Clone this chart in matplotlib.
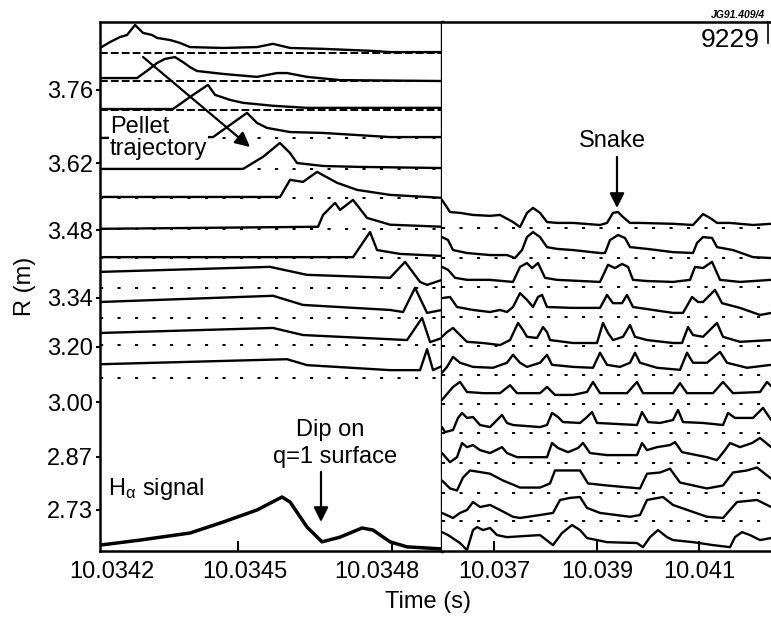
import numpy as np
import matplotlib
matplotlib.use("Agg")
import matplotlib.pyplot as plt

plt.rcParams['font.family'] = ['Liberation Sans', 'DejaVu Sans']
plt.rcParams['mathtext.fontset'] = 'custom'
plt.rcParams['mathtext.rm'] = 'Liberation Sans'
plt.rcParams['mathtext.it'] = 'Liberation Sans:italic'

# ---- data -----------------------------------------------------------------
# left panel: (time in us after 10.0342 s, signal in units of channel spacing)
T0_LEFT = 10.0342
left_0 = [(-27, 0.17), (-4.5, 0.37), (18.1, 0.54), (34.0, 0.61), (52.1, 0.95), (70.2, 0.68),
          (90.6, 0.61), (101.9, 0.51), (131.3, 0.44), (153.9, 0.34), (176.6, 0.20), (251.3, 0.17),
          (328.2, 0.20), (364.5, 0.31), (403.0, 0.17), (477.7, 0.14), (590.9, 0.07), (629.4, 0.03),
          (747, 0.03)]
left_1 = [(-27, 0.10), (56.6, 0.10), (81.5, 0.37), (101.9, 0.61), (120.0, 0.75), (142.6, 0.81),
          (160.7, 0.64), (176.6, 0.47), (192.4, 0.34), (251.3, 0.24), (328.2, 0.14), (373.6, 0.27),
          (396.2, 0.27), (441.5, 0.14), (516.2, 0.03), (747, 0.0)]
left_2 = [(-27, 0.03), (138.1, 0.03), (176.6, 0.44), (217.3, 0.85), (233.2, 0.51), (267.1, 0.34),
          (296.6, 0.24), (364.5, 0.14), (441.5, 0.07), (747, 0.07)]
left_3 = [(-27, 0.0), (228.7, 0.03), (305.6, 0.85), (328.2, 0.51), (350.9, 0.34), (403.0, 0.20),
          (477.7, 0.17), (629.4, 0.03), (747, 0.03)]
left_4 = [(-27, 0.0), (296.6, 0.0), (341.9, 0.41), (380.0, 0.88), (402.9, 0.54), (418.8, 0.20),
          (477.7, 0.10), (554.7, 0.07), (747, 0.03)]
left_5 = [(-27, 0.03), (380.4, 0.03), (403.0, 0.61), (432.4, 0.54), (464.1, 0.88), (509.4, 0.51),
          (554.7, 0.27), (629.4, 0.10), (747, 0.0)]
left_6 = [(-27, 0.0), (466.4, 0.07), (477.7, 0.47), (504.9, 0.88), (516.2, 0.64), (545.6, 0.98),
          (577.3, 0.37), (629.4, 0.14), (747, 0.07)]
left_7 = [(-27, 0.03), (545.6, 0.03), (584.1, 0.88), (600.0, 0.27), (652.0, 0.14), (747, 0.07)]
left_8 = [(-27, 0.54), (357.7, 0.71), (441.5, 0.44), (629.4, 0.34), (663.4, 0.88), (697.3, 0.20),
          (713.2, 0.10), (747, 0.27)]
left_9 = [(-27, 0.54), (364.5, 0.75), (432.4, 0.44), (629.4, 0.27), (658.9, 0.20), (686.0, 1.02),
          (713.2, 0.17), (747, 0.27)]
left_10 = [(-27, 0.41), (364.5, 0.58), (432.4, 0.34), (667.9, 0.17), (701.9, 0.92), (720.0, 0.10),
           (747, 0.24)]
left_11 = [(-27, 0.47), (396.2, 0.64), (441.5, 0.44), (629.4, 0.27), (697.3, 0.27), (713.2, 0.98),
           (726.7, 0.27), (747, 0.41)]
halpha = [(-27, 0.20), (63.4, 0.37), (176.6, 0.61), (251.3, 0.98), (328.2, 1.39), (384.9, 1.83),
          (403.0, 1.66), (441.5, 0.81), (475.4, 0.31), (516.2, 0.47), (566.0, 0.78), (590.9, 0.71),
          (629.4, 0.31), (667.9, 0.14), (747, 0.07)]
left_base = [16.88, 15.93, 14.95, 14.0, 12.95, 11.97, 10.92, 9.93, 8.92, 7.90, 6.98, 5.86]

# right panel: (time in ms after 10.036 s, signal)
T0_RIGHT = 10.036
right_0 = [(-0.02, 0.95), (0.137, 0.54), (0.332, 0.51), (0.585, 0.44), (0.917, 0.41), (1.112, 0.44),
           (1.365, 0.20), (1.502, 0.03), (1.638, 0.51), (1.755, 0.68), (1.892, 0.51), (2.028, 0.20),
           (2.223, 0.17), (2.535, 0.17), (3.062, 0.10), (3.198, 0.17), (3.315, 0.51), (3.413, 0.54),
           (3.51, 0.37), (3.647, 0.17), (3.842, 0.17), (4.485, 0.14), (4.875, 0.10), (5.07, 0.47),
           (5.207, 0.34), (5.343, 0.17), (5.597, 0.17), (6.045, 0.10), (6.40, 0.14)]
right_1 = [(-0.02, 0.71), (0.098, 0.61), (0.195, 0.27), (0.468, 0.17), (0.917, 0.10), (1.248, 0.10),
           (1.404, 0.0), (1.541, 0.27), (1.638, 0.71), (1.755, 0.88), (1.892, 0.71), (2.028, 0.37),
           (2.223, 0.31), (2.535, 0.27), (3.062, 0.17), (3.159, 0.17), (3.257, 0.61), (3.413, 0.78),
           (3.549, 0.68), (3.647, 0.37), (3.978, 0.31), (4.485, 0.20), (4.875, 0.17), (4.953, 0.51),
           (5.07, 0.71), (5.246, 0.68), (5.343, 0.37), (5.655, 0.27), (6.045, 0.03), (6.40, 0.0)]
right_2 = [(-0.02, 0.68), (0.098, 0.58), (0.234, 0.31), (0.468, 0.24), (0.917, 0.24), (1.365, 0.17),
           (1.502, 0.68), (1.638, 0.81), (1.736, 0.64), (1.853, 0.81), (1.989, 0.31), (2.223, 0.24),
           (3.062, 0.17), (3.218, 0.75), (3.354, 0.64), (3.491, 0.78), (3.608, 0.68), (3.705, 0.24),
           (3.978, 0.20), (4.485, 0.17), (4.817, 0.24), (4.914, 0.68), (5.07, 0.64), (5.246, 0.85),
           (5.402, 0.24), (5.792, 0.17), (6.40, 0.24)]
right_3 = [(-0.02, 0.64), (0.137, 0.68), (0.273, 0.34), (0.585, 0.24), (0.917, 0.17), (1.112, 0.24),
           (1.248, 0.17), (1.365, 0.34), (1.502, 0.81), (1.638, 0.58), (1.755, 0.34), (1.853, 0.68),
           (1.931, 0.75), (2.028, 0.34), (2.535, 0.31), (3.062, 0.31), (3.198, 0.75), (3.315, 0.47),
           (3.491, 0.47), (3.588, 0.75), (3.705, 0.34), (4.485, 0.14), (4.68, 0.14), (4.856, 0.68),
           (4.973, 0.51), (5.07, 0.51), (5.304, 0.92), (5.441, 0.47), (5.792, 0.31), (6.182, 0.07),
           (6.40, 0.14)]
right_4 = [(-0.02, 0.31), (0.078, 0.47), (0.195, 0.61), (0.332, 0.37), (0.468, 0.14), (0.78, 0.10),
           (1.112, 0.03), (1.307, 0.20), (1.463, 0.78), (1.56, 0.54), (1.638, 0.31), (1.833, 0.27),
           (1.95, 0.64), (2.028, 0.47), (2.087, 0.20), (2.535, 0.10), (3.003, 0.10), (3.12, 0.78),
           (3.218, 0.44), (3.315, 0.20), (3.51, 0.31), (3.647, 0.71), (3.744, 0.31), (3.978, 0.20),
           (4.485, 0.10), (4.661, 0.10), (4.778, 0.64), (4.875, 0.37), (5.07, 0.31), (5.343, 0.78),
           (5.46, 0.31), (5.792, 0.14), (6.40, 0.20)]
right_5 = [(-0.02, 0.07), (0.078, 0.27), (0.195, 0.61), (0.332, 0.41), (0.585, 0.27), (0.975, 0.24),
           (1.248, 0.41), (1.365, 0.68), (1.502, 0.41), (1.638, 0.27), (1.892, 0.41), (2.028, 0.68),
           (2.126, 0.34), (2.535, 0.27), (2.925, 0.24), (3.062, 0.75), (3.198, 0.34), (3.452, 0.27),
           (3.647, 0.41), (3.744, 0.75), (3.842, 0.41), (4.173, 0.24), (4.622, 0.17), (4.758, 0.75),
           (4.875, 0.41), (5.148, 0.41), (5.402, 0.78), (5.538, 0.41), (5.928, 0.24), (6.40, 0.34)]
right_6 = [(-0.02, 0.14), (0.195, 0.58), (0.332, 0.75), (0.468, 0.41), (0.78, 0.37), (1.112, 0.37),
           (1.307, 0.64), (1.443, 0.37), (1.892, 0.37), (2.028, 0.58), (2.184, 0.31), (2.535, 0.31),
           (2.808, 0.41), (2.925, 0.75), (3.062, 0.37), (3.588, 0.37), (3.783, 0.75), (3.9, 0.37),
           (4.485, 0.37), (4.622, 0.71), (4.758, 0.37), (5.265, 0.37), (5.46, 0.75), (5.655, 0.37),
           (6.182, 0.41), (6.318, 0.75), (6.416, 0.58)]
right_7 = [(-0.02, 0.20), (0.039, 0.03), (0.195, 0.10), (0.293, 0.51), (0.371, 0.68), (0.468, 0.51),
           (0.585, 0.54), (0.722, 0.27), (0.917, 0.20), (1.151, 0.61), (1.248, 0.34), (1.365, 0.27),
           (1.892, 0.20), (2.028, 0.27), (2.126, 0.68), (2.243, 0.54), (2.34, 0.37), (2.672, 0.34),
           (2.808, 0.54), (2.906, 0.71), (3.003, 0.34), (3.783, 0.27), (3.881, 0.71), (3.998, 0.37),
           (4.232, 0.34), (4.485, 0.44), (4.583, 0.78), (4.68, 0.37), (5.07, 0.34), (5.46, 0.27),
           (5.558, 0.68), (5.694, 0.51), (6.045, 0.51), (6.24, 0.85), (6.40, 0.44)]
right_8 = [(-0.02, 0.34), (0.137, 0.03), (0.273, 0.20), (0.371, 0.68), (0.468, 0.54), (0.585, 0.61),
           (0.722, 0.44), (0.917, 0.34), (1.151, 0.54), (1.248, 0.34), (1.443, 0.20), (2.028, 0.20),
           (2.126, 0.68), (2.243, 0.51), (2.438, 0.37), (2.633, 0.51), (2.73, 0.68), (2.867, 0.34),
           (3.198, 0.27), (3.783, 0.27), (3.881, 0.68), (3.978, 0.44), (4.173, 0.54), (4.427, 0.61),
           (4.524, 0.71), (4.661, 0.37), (5.148, 0.20), (5.343, 0.10), (5.499, 0.44), (5.597, 0.68),
           (5.792, 0.54), (6.026, 0.68), (6.182, 0.85), (6.40, 0.54)]
right_9 = [(-0.02, 0.41), (0.137, 0.14), (0.273, 0.07), (0.39, 0.51), (0.527, 0.75), (0.917, 0.64),
           (1.17, 0.41), (1.502, 0.17), (1.892, 0.17), (2.087, 0.31), (2.184, 0.75), (2.418, 0.75),
           (2.672, 0.75), (2.828, 0.31), (3.198, 0.24), (3.842, 0.14), (3.978, 0.64), (4.232, 0.68),
           (4.427, 0.81), (4.622, 0.34), (5.148, 0.14), (5.46, 0.24), (5.655, 0.68), (5.928, 0.75),
           (6.123, 0.85), (6.40, 0.47)]
right_10 = [(-0.02, 0.27), (0.195, 0.10), (0.332, 0.27), (0.468, 0.37), (0.585, 0.64), (0.722, 0.47),
            (0.917, 0.54), (1.112, 0.37), (1.365, 0.14), (1.502, 0.10), (1.892, 0.20), (2.145, 0.27),
            (2.282, 0.71), (2.477, 0.78), (2.672, 0.81), (2.808, 0.44), (3.062, 0.27), (3.647, 0.14),
            (3.842, 0.20), (3.978, 0.71), (4.29, 0.81), (4.485, 0.54), (5.148, 0.14), (5.46, 0.10),
            (5.597, 0.37), (5.733, 0.64), (6.123, 0.71), (6.40, 0.47)]
right_11 = [(-0.02, 0.61), (0.098, 0.51), (0.332, 0.24), (0.468, 0.0), (0.585, 0.68), (0.663, 0.78),
            (0.78, 0.68), (0.917, 0.75), (1.053, 0.51), (1.248, 0.44), (1.892, 0.51), (2.145, 0.17),
            (2.321, 0.58), (2.516, 0.85), (2.672, 0.68), (2.808, 0.41), (3.198, 0.27), (3.783, 0.24),
            (3.9, 0.10), (4.037, 0.44), (4.193, 0.68), (4.368, 0.44), (4.485, 0.34), (4.875, 0.27),
            (5.265, 0.17), (5.597, 0.10), (5.694, 0.44), (5.831, 0.61), (5.987, 0.51), (6.182, 0.34),
            (6.40, 0.41)]
right_base = [10.95, 9.93, 8.95, 7.93, 6.95, 5.97, 4.98, 4.0, 2.98, 1.98, 1.02, 0.03]

r_tick_pos = [15.63, 13.15, 10.88, 8.58, 6.92, 5.05, 3.19, 1.39]
r_tick_lab = ['3.76', '3.62', '3.48', '3.34', '3.20', '3.00', '2.87', '2.73']
left_xticks = [10.0342, 10.0345, 10.0348]
left_xmarks = [10.034485, 10.034834]
right_xticks = [10.037, 10.039, 10.041]

# ---- figure ---------------------------------------------------------------
W, H = 771, 618
fig = plt.figure(figsize=(W / 100, H / 100), dpi=100)
bot, top = 551, 22
axL = fig.add_axes([100 / W, (H - bot) / H, 342 / W, (bot - top) / H])
axR = fig.add_axes([442 / W, (H - bot) / H, 329 / W, (bot - top) / H], sharey=axL)

left_traces = [left_0, left_1, left_2, left_3, left_4, left_5,
               left_6, left_7, left_8, left_9, left_10, left_11]
right_traces = [right_0, right_1, right_2, right_3, right_4, right_5,
                right_6, right_7, right_8, right_9, right_10, right_11]

line_kw = dict(color='k', lw=1.7, solid_joinstyle='round', solid_capstyle='round', zorder=2)

for k, (b, tr) in enumerate(zip(left_base, left_traces)):
    tr = np.array(tr)
    if k < 3:
        axL.axhline(b, color='k', lw=1.4, dashes=(4.0, 1.6), zorder=1)
    else:
        axL.axhline(b, color='k', lw=1.4, dashes=(1.6, 7.4), zorder=1)
    axL.plot(T0_LEFT + tr[:, 0] * 1e-6, b + tr[:, 1], **line_kw)

ha = np.array(halpha)
axL.plot(T0_LEFT + ha[:, 0] * 1e-6, ha[:, 1], color='k', lw=2.5,
         solid_joinstyle='round', zorder=2)

for j, (b, tr) in enumerate(zip(right_base, right_traces)):
    tr = np.array(tr)
    if j < 11:
        axR.axhline(b, color='k', lw=1.4, dashes=(1.6, 7.4), zorder=1)
    axR.plot(T0_RIGHT + tr[:, 0] * 1e-3, b + tr[:, 1], **line_kw)

axL.set_xlim(T0_LEFT - 27.2e-6, T0_LEFT + 747e-6)
axR.set_xlim(T0_RIGHT - 0.0195e-3, T0_RIGHT + 6.396e-3)
axL.set_ylim(0, 17.93)

for ax in (axL, axR):
    for s in ax.spines.values():
        s.set_linewidth(1.8)
axR.spines['right'].set_visible(False)
axR.spines['left'].set_visible(False)
axL.spines['right'].set_linewidth(2.4)

axL.set_yticks(r_tick_pos)
axL.set_yticklabels(r_tick_lab)
axL.tick_params(axis='y', length=3, width=1.5, pad=2, labelsize=17)
axL.set_xticks(left_xticks)
axL.set_xticklabels([f'{v:.4f}' for v in left_xticks])
axL.set_xticks(left_xmarks, minor=True)
axL.tick_params(axis='x', which='major', length=0, pad=7, labelsize=17)
axL.tick_params(axis='x', which='minor', direction='in', length=7, width=1.5)

axR.set_xticks(right_xticks)
axR.set_xticklabels([f'{v:.3f}' for v in right_xticks])
axR.tick_params(axis='x', direction='in', length=7, width=1.5, pad=7, labelsize=17)
axR.tick_params(axis='y', left=False, labelleft=False)
axR.plot([0.991, 0.991], [1.0, 0.96], transform=axR.transAxes, color='k', lw=1.2, clip_on=False)

# ---- text & arrows --------------------------------------------------------
def fx(x):
    return x / W


def fy(y):
    return 1 - y / H


fig.text(fx(25), fy(286), 'R (m)', rotation=90, ha='center', va='center', fontsize=17)
fig.text(fx(428), fy(602), 'Time (s)', ha='center', va='center', fontsize=17)
fig.text(fx(738), fy(15), 'JG91.409/4', ha='center', va='center', fontsize=7.5,
         fontweight='bold', style='italic')
fig.text(fx(730), fy(40), '9229', ha='center', va='center', fontsize=19)
fig.text(fx(110), fy(138), 'Pellet\ntrajectory', ha='left', va='center', fontsize=17,
         linespacing=1.05, bbox=dict(facecolor='white', edgecolor='none', pad=0.5), zorder=5)
fig.text(fx(612), fy(141), 'Snake', ha='center', va='center', fontsize=17)
fig.text(fx(330), fy(430), 'Dip on', ha='center', va='center', fontsize=17)
fig.text(fx(335), fy(457), 'q=1 surface', ha='center', va='center', fontsize=17)
fig.text(fx(108), fy(489), r'H$_{\mathrm{α}}$ signal', ha='left', va='center', fontsize=17)

arrow = dict(arrowstyle='-|>', color='k', lw=1.6, mutation_scale=22, shrinkA=0, shrinkB=0)
for (x0, y0), (x1, y1) in [((143, 57), (250, 147)), ((617, 157), (617, 208)),
                           ((321, 472), (321, 522))]:
    fig.add_artist(plt.Annotation('', xy=(x1, H - y1), xytext=(x0, H - y0),
                                  xycoords='figure pixels', textcoords='figure pixels',
                                  arrowprops=arrow))

fig.savefig('out.png', dpi=100)
